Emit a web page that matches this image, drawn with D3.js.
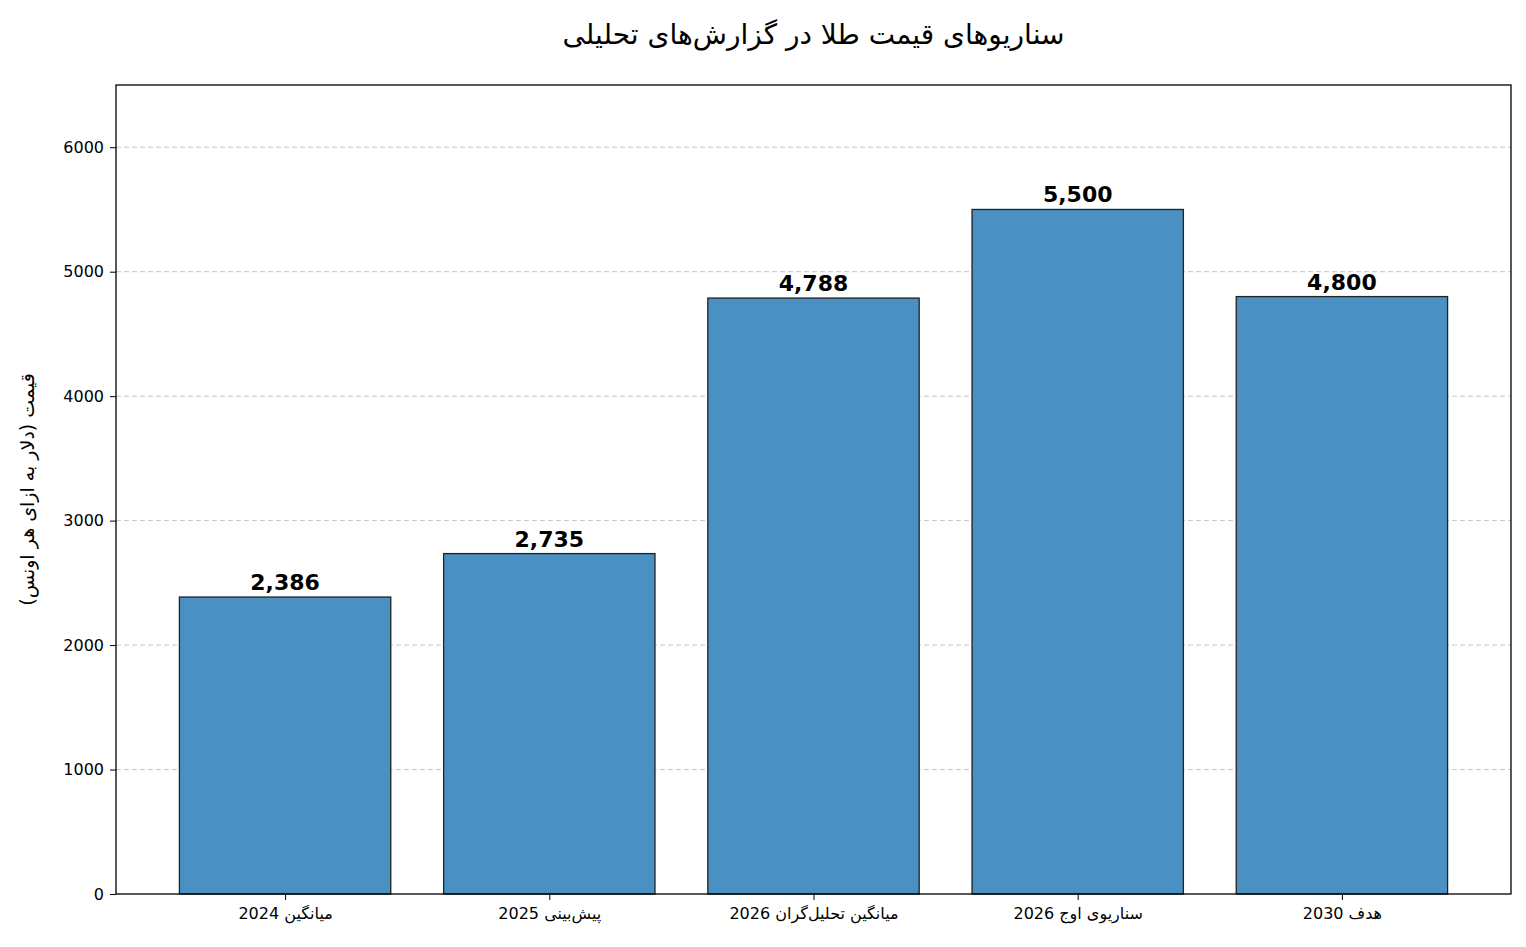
<!DOCTYPE html>
<html><head><meta charset="utf-8">
<script src="https://cdn.jsdelivr.net/npm/d3@7"></script>
<style>body{margin:0;background:#fff;font-family:"DejaVu Sans",sans-serif}</style>
</head><body>
<svg id="c" width="1526" height="947"></svg>
<script>
const categories = ["میانگین 2024","پیش‌بینی 2025","میانگین تحلیل‌گران 2026","سناریوی اوج 2026","هدف 2030"];
const values = [2386, 2735, 4788, 5500, 4800];
const yTicks = [0,1000,2000,3000,4000,5000,6000];
const title = "سناریوهای قیمت طلا در گزارش‌های تحلیلی";
const yLabel = "قیمت (دلار به ازای هر اونس)";

const svg = d3.select("#c");
const L=116,R=1511,T=85,B=894;
const x = d3.scaleLinear().domain([-0.64,4.64]).range([L,R]);
const y = d3.scaleLinear().domain([0,6500]).range([B,T]);
const bw = x(0.4)-x(-0.4);

svg.append("g").selectAll("line").data(yTicks.slice(1)).join("line")
  .attr("x1",L).attr("x2",R).attr("y1",d=>y(d)).attr("y2",d=>y(d))
  .attr("stroke","#b0b0b0").attr("stroke-dasharray","5,3").attr("stroke-opacity",0.7);

svg.append("g").selectAll("rect").data(values).join("rect")
  .attr("x",(d,i)=>x(i)-bw/2).attr("width",bw)
  .attr("y",d=>y(d)).attr("height",d=>B-y(d))
  .attr("fill","#4a90c2").attr("stroke","#222").attr("stroke-width",1.3);

svg.append("g").selectAll("text").data(values).join("text")
  .attr("x",(d,i)=>x(i)).attr("y",d=>y(d)-7).attr("text-anchor","middle")
  .attr("font-size",22).attr("font-weight","bold").text(d=>d3.format(",")(d));

const ya = d3.axisLeft(y).tickValues(yTicks).tickSize(6).tickPadding(6).tickFormat(d3.format("d"));
const gy = svg.append("g").attr("transform",`translate(${L},0)`).call(ya);
gy.select(".domain").remove();
gy.selectAll("text").attr("font-size",16).attr("font-family","DejaVu Sans").attr("fill","#000");

const xa = d3.axisBottom(x).tickValues(d3.range(5)).tickSize(6).tickPadding(8).tickFormat(i=>categories[i]);
const gx = svg.append("g").attr("transform",`translate(0,${B})`).call(xa);
gx.select(".domain").remove();
gx.selectAll("text").attr("font-size",16).attr("font-family","DejaVu Sans").attr("fill","#000").attr("direction","rtl").attr("text-anchor","middle");

svg.append("rect").attr("x",L).attr("y",T).attr("width",R-L).attr("height",B-T)
  .attr("fill","none").attr("stroke","#000").attr("stroke-width",1.3);

svg.append("text").attr("x",(L+R)/2).attr("y",44).attr("text-anchor","middle")
  .attr("direction","rtl").attr("font-size",28).text(title);
svg.append("text").attr("transform",`translate(34,${(T+B)/2}) rotate(-90)`)
  .attr("text-anchor","middle").attr("direction","rtl").attr("font-size",19).text(yLabel);
</script></body></html>
